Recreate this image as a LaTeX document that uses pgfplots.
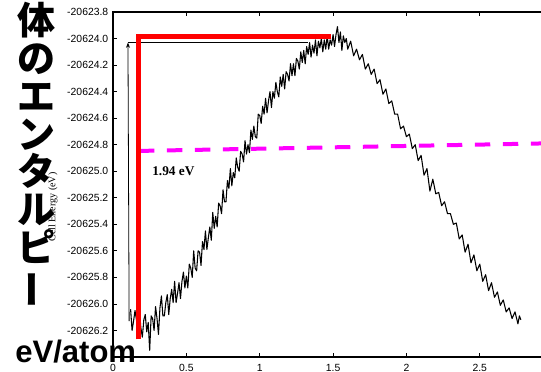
\documentclass[border=0pt]{standalone}
\usepackage{pgfplots}
\pgfplotsset{compat=1.18}
\usepackage{fontspec}
\usepackage{graphicx}
\usetikzlibrary{arrows.meta}
\setmainfont{Liberation Sans}
\newfontfamily\serifb{Liberation Serif}
\newfontfamily\cjk{Noto Sans CJK JP}
\definecolor{myred}{RGB}{255,0,0}
\definecolor{mymag}{RGB}{255,0,255}
% y values are cell energy + 20625 (eV); tick labels give the absolute values
\begin{document}
\begin{tikzpicture}
\begin{axis}[
  at={(0,0)}, anchor=south west,
  scale only axis,
  width=324.6pt, height=258.75pt,
  xmin=0, xmax=2.95, ymin=-1.40, ymax=1.20,
  xtick={0,0.5,1,1.5,2,2.5},
  xticklabels={0,0.5,1,1.5,2,2.5},
  ytick={-1.4,-1.2,-1.0,-0.8,-0.6,-0.4,-0.2,0,0.2,0.4,0.6,0.8,1.0,1.2},
  yticklabels={{},-20626.2,-20626.0,-20625.8,-20625.6,-20625.4,-20625.2,-20625.0,-20624.8,-20624.6,-20624.4,-20624.2,-20624.0,-20623.8},
  tick align=inside,
  ytick pos=left,
  major tick length=3pt,
  axis line style={line width=0.8pt},
  tick style={line width=0.6pt, black},
  ticklabel style={font=\fontsize{7.8}{9}\selectfont},
  xticklabel style={yshift=-2pt},
]
\addplot[black, line width=0.8pt, line join=round] coordinates {
(0.12,-1.04) (0.13,-1.20) (0.14,-1.13) (0.15,-1.05) (0.16,-1.12) (0.17,-1.20) (0.18,-1.04) (0.19,-1.18)
(0.20,-1.25) (0.21,-1.12) (0.22,-1.08) (0.23,-1.21) (0.24,-1.14) (0.25,-1.35) (0.26,-1.09) (0.27,-1.11)
(0.28,-1.20) (0.29,-1.02) (0.30,-1.11) (0.31,-1.23) (0.32,-1.03) (0.33,-0.94) (0.34,-1.09) (0.35,-1.09)
(0.36,-0.99) (0.37,-0.93) (0.38,-1.08) (0.39,-0.96) (0.40,-0.89) (0.41,-0.99) (0.42,-0.83) (0.43,-0.99)
(0.44,-0.92) (0.45,-0.84) (0.46,-0.96) (0.47,-0.83) (0.48,-0.76) (0.49,-0.88) (0.50,-0.79) (0.51,-0.88)
(0.52,-0.70) (0.53,-0.73) (0.54,-0.80) (0.55,-0.60) (0.56,-0.73) (0.57,-0.75) (0.58,-0.60) (0.59,-0.61)
(0.60,-0.71) (0.61,-0.53) (0.62,-0.59) (0.63,-0.45) (0.64,-0.59) (0.65,-0.50) (0.66,-0.42) (0.67,-0.52)
(0.68,-0.31) (0.69,-0.43) (0.70,-0.34) (0.71,-0.42) (0.72,-0.24) (0.73,-0.26) (0.74,-0.32) (0.75,-0.14)
(0.76,-0.23) (0.77,-0.23) (0.78,-0.07) (0.79,-0.13) (0.80,0.02) (0.81,-0.11) (0.82,-0.01) (0.83,-0.05)
(0.84,0.10) (0.85,0.03) (0.86,0.00) (0.87,0.15) (0.88,0.13) (0.89,0.07) (0.90,0.23) (0.91,0.13)
(0.92,0.20) (0.93,0.14) (0.94,0.31) (0.95,0.24) (0.96,0.34) (0.97,0.26) (0.98,0.25) (0.99,0.43)
(1.00,0.42) (1.01,0.36) (1.02,0.49) (1.03,0.43) (1.04,0.55) (1.05,0.44) (1.06,0.53) (1.07,0.60)
(1.08,0.48) (1.09,0.60) (1.10,0.55) (1.11,0.67) (1.12,0.60) (1.13,0.56) (1.14,0.71) (1.15,0.64)
(1.16,0.73) (1.17,0.62) (1.18,0.75) (1.19,0.73) (1.20,0.68) (1.21,0.81) (1.22,0.72) (1.23,0.81)
(1.24,0.72) (1.25,0.85) (1.26,0.83) (1.27,0.77) (1.28,0.90) (1.29,0.82) (1.30,0.91) (1.31,0.81)
(1.32,0.94) (1.33,0.88) (1.34,0.97) (1.35,0.86) (1.36,0.95) (1.37,0.89) (1.38,0.99) (1.39,0.87)
(1.40,0.98) (1.41,0.93) (1.42,1.00) (1.43,0.90) (1.44,0.99) (1.45,0.92) (1.46,1.02) (1.47,0.92)
(1.48,0.99) (1.49,0.95) (1.50,1.03) (1.51,0.94) (1.52,1.03) (1.53,1.09) (1.54,0.97) (1.55,1.05)
(1.56,0.91) (1.57,1.02) (1.58,0.97) (1.59,1.00) (1.60,0.92)
(1.62,0.98) (1.64,0.87) (1.66,0.92) (1.68,0.84) (1.70,0.88) (1.72,0.77) (1.74,0.81) (1.76,0.73)
(1.78,0.77) (1.80,0.66) (1.82,0.69) (1.84,0.58) (1.86,0.62) (1.88,0.51) (1.90,0.53) (1.92,0.43)
(1.94,0.43) (1.96,0.32) (1.98,0.34) (2.00,0.26) (2.02,0.28) (2.04,0.17) (2.06,0.20) (2.08,0.08)
(2.10,0.12) (2.12,-0.03) (2.14,0.02) (2.16,-0.15) (2.18,-0.06) (2.20,-0.17) (2.22,-0.16) (2.24,-0.26)
(2.26,-0.23) (2.28,-0.32) (2.30,-0.32) (2.32,-0.40) (2.34,-0.39) (2.36,-0.51) (2.38,-0.48) (2.40,-0.61)
(2.42,-0.55) (2.44,-0.69) (2.46,-0.63) (2.48,-0.75) (2.50,-0.70) (2.52,-0.83) (2.54,-0.78) (2.56,-0.90)
(2.58,-0.84) (2.60,-0.95) (2.62,-0.91) (2.64,-1.01) (2.66,-0.97) (2.68,-1.06) (2.70,-1.03) (2.72,-1.11)
(2.74,-1.06) (2.76,-1.15) (2.77,-1.09) (2.78,-1.12)
};
\addplot[mymag, line width=3pt, dash pattern=on 11.5pt off 9.5pt] coordinates {(0.177,0.153) (2.95,0.210)};
\addplot[black, line width=0.5pt] coordinates {(0.102,0.974) (1.33,0.974)};
\addplot[black, line width=0.6pt, -{Stealth[length=4pt,width=3pt]}] coordinates {(0.11,-1.13) (0.102,0.97)};
\addplot[myred, line width=3.75pt, line join=miter] coordinates {(0.177,-1.267) (0.177,1.014) (1.486,1.014)};
\end{axis}
\node[anchor=west, inner sep=0, font=\serifb\bfseries\fontsize{10}{12}\selectfont] at (29.25pt,139.5pt) {1.94 eV};
\node[rotate=90, inner sep=0, font=\serifb\fontsize{7.5}{9}\selectfont] at (-45pt,112.5pt) {Cell Energy (eV)};
\node[anchor=north, inner sep=0, align=center, font=\cjk\bfseries\fontsize{28.5}{28.3}\selectfont] at (-57pt,266pt) {体\\の\\エ\\ン\\タ\\ル\\ピ\\\rotatebox[origin=c]{90}{ー}};
\node[anchor=base west, inner sep=0, font=\bfseries\fontsize{23.3}{26}\selectfont] at (-73.5pt,-3.75pt) {eV/atom};
\pgfresetboundingbox
\path[use as bounding box] (-84.75pt,-10.5pt) rectangle (321pt,267.75pt);
\end{tikzpicture}
\end{document}
